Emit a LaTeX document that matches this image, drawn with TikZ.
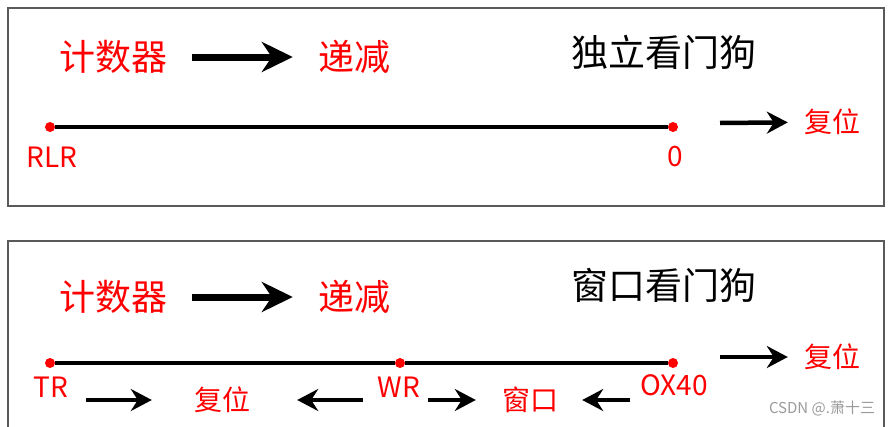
\documentclass[tikz,border=0pt]{standalone}
\usepackage{fontspec}
\newfontfamily\cjk{Noto Sans CJK SC}
\usetikzlibrary{arrows.meta,positioning}
\definecolor{wdRed}{HTML}{FF0000}
\definecolor{wdFrame}{HTML}{5A5A5A}
\definecolor{wdMark}{HTML}{9A9A9A}

\begin{document}
\begin{tikzpicture}[
  x=1pt, y=-1pt,
  font=\cjk,
  panel/.style={draw=wdFrame, line width=1.4pt},
  big/.style={inner sep=0pt, font=\cjk\fontsize{36}{40}\selectfont, text=#1},
  big/.default=wdRed,
  lab/.style={inner sep=0pt, font=\cjk\fontsize{28}{32}\selectfont, text=wdRed},
  dot/.style={circle, fill=wdRed, minimum size=10pt, inner sep=0pt},
  axis/.style={line width=4.5pt, black},
  bigarr/.style={-{Stealth[length=31pt, width=30pt, inset=10pt]}, line width=7pt},
  arr/.style={-{Stealth[length=21pt, width=22pt, inset=7pt]}, line width=4.5pt},
  wmark/.style={inner sep=0pt, font=\cjk\fontsize{15}{17}\selectfont, text=wdMark}
]
\useasboundingbox (0,0) rectangle (894,426);
% frames
\draw[panel] (8,8) rectangle (884,206);
\draw[panel] (8,241) rectangle (884,450);

% independent watchdog
\node[big] (cnt1) at (113,57) {计数器};
\node[big] (dec1) at (354,57) {递减};
\node[big=black, font=\cjk\fontsize{37}{40}\selectfont] (title1) at (664,52) {独立看门狗};
\draw[bigarr, shorten <=25pt, shorten >=25pt] (cnt1) -- (dec1);
\node[dot] (rlr) at (50,127) {};
\node[dot] (zero) at (673,127) {};
\draw[axis] (rlr) -- (zero);
\node[lab] at (52,157) {RLR};
\node[lab] at (675,157) {0};
\node[lab] (rst1) at (832,122) {复位};
\coordinate (go1) at (720,123);
\draw[arr, shorten >=16pt] (go1) -- (rst1);

% window watchdog
\node[big] (cnt2) at (113,297) {计数器};
\node[big] (dec2) at (354,297) {递减};
\node[big=black, font=\cjk\fontsize{37}{40}\selectfont] (title2) at (664,285) {窗口看门狗};
\draw[bigarr, shorten <=25pt, shorten >=25pt] (cnt2) -- (dec2);
\node[dot] (tr) at (50,363) {};
\node[dot] (wr) at (400,363) {};
\node[dot] (top) at (673,363) {};
\draw[axis] (tr) -- (wr) -- (top);
\node[lab] (trl) at (51,387) {TR};
\node[lab] (wrl) at (399,387) {WR};
\node[lab] (topl) at (674,385) {OX40};
\node[lab] (rst2) at (832,357) {复位};
\coordinate (go2) at (720,357);
\draw[arr, shorten >=16pt] (go2) -- (rst2);
% below the time line
\node[lab] (rst3) at (222,400) {复位};
\node[lab] (win) at (530,400) {窗口};
\coordinate (s1) at (86,400);
\coordinate (s2) at (363,400);
\coordinate (s3) at (428,400);
\coordinate (s4) at (630,400);
\draw[arr, shorten >=42pt] (s1) -- (rst3);
\draw[arr, shorten >=47pt] (s2) -- (rst3);
\draw[arr, shorten >=26pt] (s3) -- (win);
\draw[arr, shorten >=24pt] (s4) -- (win);

\node[wmark] (wm) at (822,408) {CSDN @.萧十三};
\end{tikzpicture}
\end{document}
